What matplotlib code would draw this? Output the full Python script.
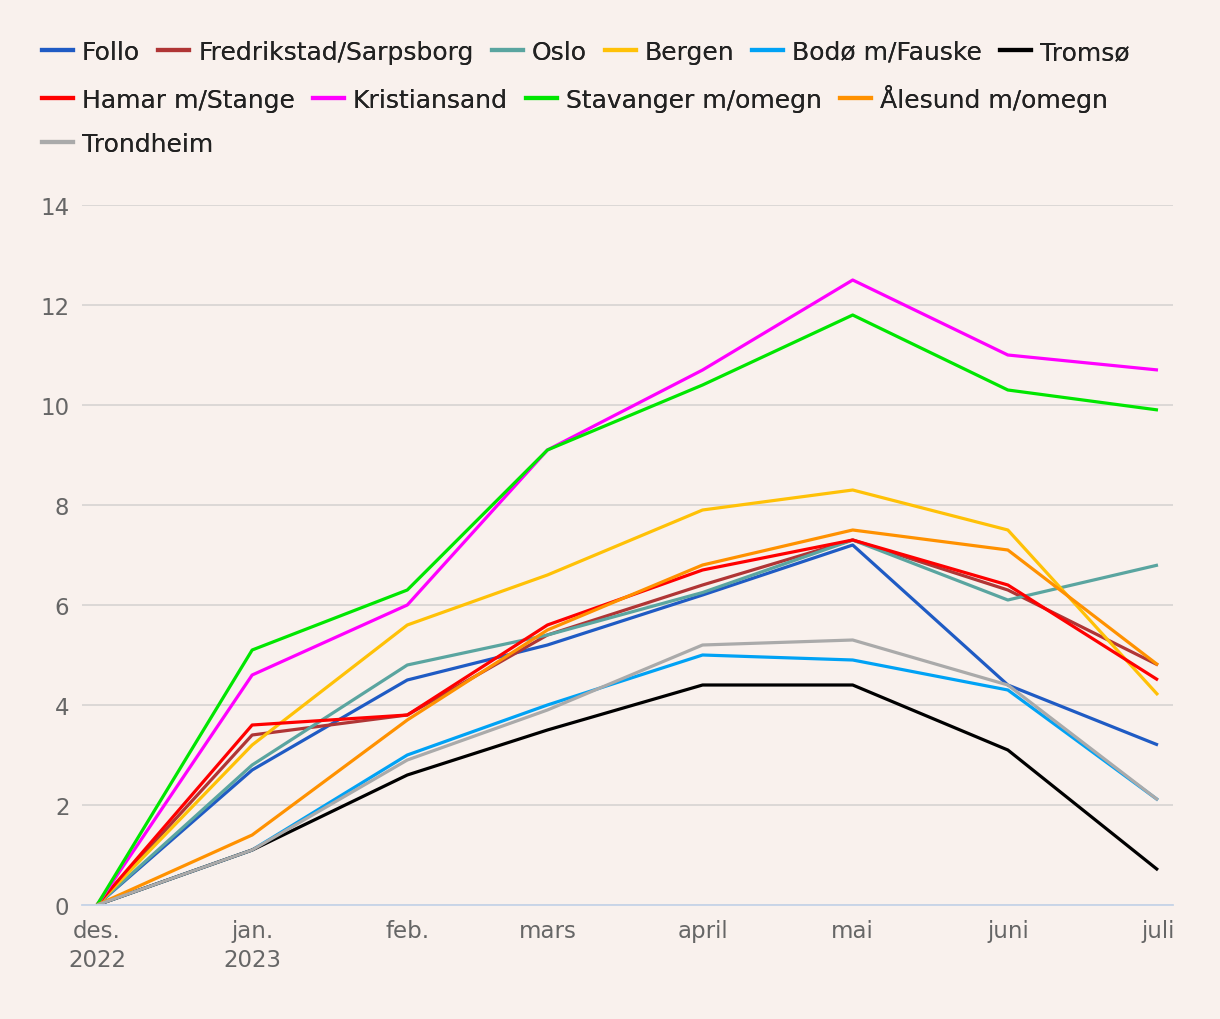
import datetime as dt
import matplotlib.pyplot as plt
from matplotlib.lines import Line2D

# months, first of each month
months = [dt.date(2022, 12, 1), dt.date(2023, 1, 1), dt.date(2023, 2, 1), dt.date(2023, 3, 1),
          dt.date(2023, 4, 1), dt.date(2023, 5, 1), dt.date(2023, 6, 1), dt.date(2023, 7, 1)]
month_labels = ['des.\n2022', 'jan.\n2023', 'feb.', 'mars', 'april', 'mai', 'juni', 'juli']

names = ['Follo', 'Fredrikstad/Sarpsborg', 'Oslo', 'Bergen', 'Bodø m/Fauske', 'Tromsø',
         'Hamar m/Stange', 'Kristiansand', 'Stavanger m/omegn', 'Ålesund m/omegn', 'Trondheim']

follo = [0, 2.7, 4.5, 5.2, 6.2, 7.2, 4.4, 3.2]
fredrikstad = [0, 3.4, 3.8, 5.4, 6.4, 7.3, 6.3, 4.8]
oslo = [0, 2.8, 4.8, 5.4, 6.25, 7.3, 6.1, 6.8]
bergen = [0, 3.2, 5.6, 6.6, 7.9, 8.3, 7.5, 4.2]
bodo = [0, 1.1, 3.0, 4.0, 5.0, 4.9, 4.3, 2.1]
tromso = [0, 1.1, 2.6, 3.5, 4.4, 4.4, 3.1, 0.7]
hamar = [0, 3.6, 3.8, 5.6, 6.7, 7.3, 6.4, 4.5]
kristiansand = [0, 4.6, 6.0, 9.1, 10.7, 12.5, 11.0, 10.7]
stavanger = [0, 5.1, 6.3, 9.1, 10.4, 11.8, 10.3, 9.9]
alesund = [0, 1.4, 3.7, 5.5, 6.8, 7.5, 7.1, 4.8]
trondheim = [0, 1.1, 2.9, 3.9, 5.2, 5.3, 4.4, 2.1]

series = [follo, fredrikstad, oslo, bergen, bodo, tromso, hamar, kristiansand,
          stavanger, alesund, trondheim]
colors = ['#1f5bc4', '#b03535', '#5aa5a0', '#ffc107', '#00a2f5', '#000000',
          '#ff0000', '#ff00ff', '#00e600', '#ff9100', '#aaaaaa']

bg = '#f9f1ed'
plt.rcParams['font.family'] = ['DejaVu Sans']

fig = plt.figure(figsize=(12.2, 10.2), dpi=100, facecolor=bg)
ax = fig.add_axes([82 / 1220, 114 / 1020, (1173 - 82) / 1220, 700 / 1020])
ax.set_facecolor(bg)

for name, vals, c in zip(names, series, colors):
    ax.plot(months, vals, color=c, lw=2.3, label=name, solid_capstyle='butt')

ax.set_ylim(0, 14)
ax.set_yticks(range(0, 15, 2))
pad = dt.timedelta(days=3.6)
ax.set_xlim(months[0] - pad, months[-1] + pad)
ax.set_xticks(months)
ax.xaxis.set_major_formatter(plt.FixedFormatter(month_labels))
for t in ax.get_xticklabels():
    t.set_linespacing(1.35)

ax.grid(axis='y', color='#d9d6d4', lw=1.3)
ax.set_axisbelow(True)
for s in ['top', 'right', 'left']:
    ax.spines[s].set_visible(False)
ax.spines['bottom'].set_color('#c6d4e8')
ax.spines['bottom'].set_linewidth(1.3)
ax.tick_params(axis='both', length=0, labelsize=16.5, labelcolor='#666666')
ax.tick_params(axis='x', pad=10)
ax.tick_params(axis='y', pad=9)

# legend rows laid out as flowing lines
rows = [names[0:6], names[6:10], names[10:11]]
row_y = [53, 99, 145]
for row, y in zip(rows, row_y):
    handles = [Line2D([], [], color=colors[names.index(n)], lw=3) for n in row]
    leg = fig.legend(handles, row, loc='center left', ncol=len(row),
                     bbox_to_anchor=(42 / 1220, 1 - y / 1020), frameon=False,
                     fontsize=18, handlelength=1.24, handletextpad=0.36,
                     columnspacing=0.72, borderpad=0, borderaxespad=0)
    for t in leg.get_texts():
        t.set_color('#222222')
    fig.add_artist(leg)

fig.savefig('out.png', dpi=100, facecolor=bg)
